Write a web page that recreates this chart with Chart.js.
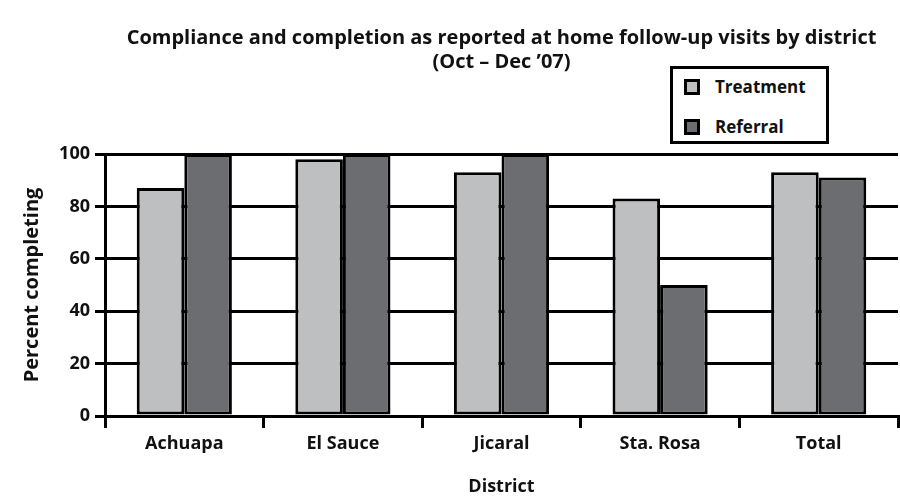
<!DOCTYPE html>
<html>
<head>
<meta charset="utf-8">
<script src="https://cdn.jsdelivr.net/npm/chart.js@4.4.1/dist/chart.umd.min.js"></script>
<style>
  body { margin: 0; background: #fff; }
  #wrap { position: relative; width: 900px; height: 498px; }
  #legend {
    position: absolute; left: 670px; top: 66px; width: 153px; height: 72px;
    border: 3px solid #000; background: #fff;
    font-family: "Open Sans", Lato, sans-serif; font-weight: bold; font-size: 17px; color: #111;
  }
  .item { position: absolute; left: 11px; display: flex; align-items: center; }
  .item span.box { width: 10px; height: 10px; border: 3px solid #000; margin-right: 15px; }
</style>
</head>
<body>
<div id="wrap">
  <canvas id="chart" width="900" height="498"></canvas>
  <div id="legend"></div>
</div>
<script>
const categories = ['Achuapa', 'El Sauce', 'Jicaral', 'Sta. Rosa', 'Total'];
const treatment = [87, 98, 93, 83, 93];
const referral = [100, 100, 100, 50, 91];
const yTicks = [0, 20, 40, 60, 80, 100];
const seriesNames = ['Treatment', 'Referral'];
const seriesColors = ['#bebfc1', '#6c6d71'];

const font = '"Open Sans", Lato, sans-serif';

// legend drawn as html box like the original
const legend = document.getElementById('legend');
seriesNames.forEach((name, i) => {
  const row = document.createElement('div');
  row.className = 'item';
  row.style.top = (i === 0 ? 6 : 46) + 'px';
  row.innerHTML = `<span class="box" style="background:${seriesColors[i]}"></span>${name}`;
  legend.appendChild(row);
});

const ctx = document.getElementById('chart').getContext('2d');
new Chart(ctx, {
  type: 'bar',
  data: {
    labels: categories,
    datasets: [
      { label: seriesNames[0], data: treatment, backgroundColor: seriesColors[0] },
      { label: seriesNames[1], data: referral, backgroundColor: seriesColors[1] }
    ]
  },
  options: {
    responsive: false,
    animation: false,
    layout: { padding: { left: 16, right: 2, top: 0, bottom: 0 } },
    datasets: {
      bar: {
        borderColor: '#000',
        borderWidth: 3,
        borderSkipped: false,
        categoryPercentage: 0.6,
        barPercentage: 1.0
      }
    },
    plugins: {
      legend: { display: false },
      tooltip: { enabled: false },
      title: {
        display: true,
        fullSize: false,
        text: ['Compliance and completion as reported at home follow-up visits by district', '(Oct \u2013 Dec \u201907)'],
        color: '#111',
        font: { family: font, size: 20, weight: 'bold', lineHeight: 1.2 },
        padding: { top: 26, bottom: 80 }
      }
    },
    scales: {
      x: {
        afterFit: s => { s.height = 82; },
        border: { color: '#000', width: 3 },
        grid: { drawOnChartArea: false, drawTicks: true, tickLength: 12, color: '#000', lineWidth: 3, offset: true },
        ticks: { color: '#111', padding: 5, font: { family: font, size: 18, weight: 'bold' } },
        title: {
          display: true, text: 'District', color: '#111',
          font: { family: font, size: 18, weight: 'bold' }, padding: { top: 14, bottom: 0 }
        }
      },
      y: {
        min: 0,
        max: 100,
        afterFit: s => { s.width = 89; },
        afterBuildTicks: s => { s.ticks = yTicks.map(v => ({ value: v })); },
        border: { color: '#000', width: 3 },
        grid: { color: '#000', lineWidth: 3, tickLength: 10 },
        ticks: { color: '#111', padding: 5, font: { family: font, size: 18, weight: 'bold' } },
        title: {
          display: true, text: 'Percent completing', color: '#111',
          font: { family: font, size: 20, weight: 'bold' }, padding: { top: 4, bottom: 4 }
        }
      }
    }
  }
});
</script>
</body>
</html>
